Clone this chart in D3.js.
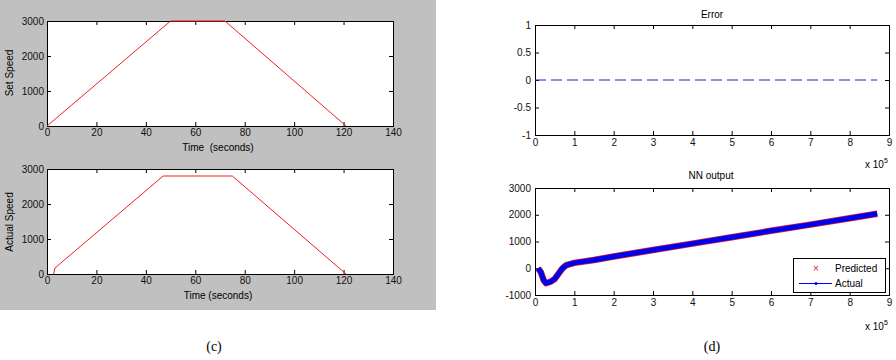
<!DOCTYPE html>
<html>
<head>
<meta charset="utf-8">
<script src="https://cdn.jsdelivr.net/npm/d3@7"></script>
<style>
  body { margin: 0; background: #fff; }
  text { font-family: "Liberation Sans", Arial, sans-serif; }
</style>
</head>
<body>
<svg id="fig"></svg>
<script>
// data
var setTime = [0, 50, 72, 121];
var setSpeed = [0, 3000, 3000, 0];
var actTime = [2.7, 3.2, 47, 75, 121];
var actSpeed = [0, 170, 2800, 2800, 0];
var speedXTicks = [0, 20, 40, 60, 80, 100, 120, 140];
var speedYTicks = [0, 1000, 2000, 3000];

var errX = [0, 8.7];
var errY = [0, 0];
var errXTicks = [0, 1, 2, 3, 4, 5, 6, 7, 8, 9];
var errYTicks = [-1, -0.5, 0, 0.5, 1];

var nnX = [0.08, 0.15, 0.22, 0.28, 0.4, 0.5, 0.6, 0.7, 0.8, 1.0, 1.5, 2, 3, 4, 5, 6, 7, 8, 8.7];
var nnY = [0, -150, -450, -560, -500, -400, -200, 0, 120, 200, 310, 440, 680, 920, 1160, 1400, 1630, 1870, 2040];
var nnYTicks = [-1000, 0, 1000, 2000, 3000];

var svg = d3.select("#fig").attr("width", 896).attr("height", 360);

svg.append("rect").attr("width", 896).attr("height", 360).attr("fill", "#fff");
// gray figure background of panel (c)
svg.append("rect").attr("width", 436).attr("height", 310).attr("fill", "#c0c0c0");

// MATLAB style axes: box with inward ticks on all four sides
function makeAxes(box, xDom, yDom, xTicks, yTicks, pad) {
  var g = svg.append("g").attr("transform", `translate(${box.x},${box.y})`);
  var x = d3.scaleLinear().domain(xDom).range([0, box.w]);
  var y = d3.scaleLinear().domain(yDom).range([box.h, 0]);
  var fmt = d => String(d);

  g.append("rect").attr("width", box.w).attr("height", box.h).attr("fill", "#fff");

  g.append("g").attr("transform", `translate(0,${box.h})`)
    .call(d3.axisBottom(x).tickValues(xTicks).tickSize(-4).tickPadding(pad).tickFormat(fmt));
  g.append("g")
    .call(d3.axisTop(x).tickValues(xTicks).tickSize(-4).tickFormat(""));
  g.append("g")
    .call(d3.axisLeft(y).tickValues(yTicks).tickSize(-4).tickPadding(pad).tickFormat(fmt));
  g.append("g").attr("transform", `translate(${box.w},0)`)
    .call(d3.axisRight(y).tickValues(yTicks).tickSize(-4).tickFormat(""));

  g.selectAll(".domain").remove();
  g.selectAll(".tick line").attr("stroke", "#000");
  g.selectAll(".tick text").attr("fill", "#111").style("font-size", "10px")
    .style("font-family", "'Liberation Sans', Arial, sans-serif");

  g.append("rect").attr("x", 0.5).attr("y", 0.5)
    .attr("width", box.w).attr("height", box.h)
    .attr("fill", "none").attr("stroke", "#000");

  return { g: g, x: x, y: y };
}

// (c) top: set speed
var a1 = makeAxes({ x: 47, y: 21, w: 346, h: 105 }, [0, 140], [0, 3000], speedXTicks, speedYTicks, 3);
a1.g.append("path")
  .datum(d3.zip(setTime, setSpeed))
  .attr("d", d3.line().x(d => a1.x(d[0])).y(d => a1.y(d[1])))
  .attr("fill", "none").attr("stroke", "#f02020").attr("stroke-width", 1);

svg.append("text").attr("x", 218).attr("y", 151).attr("text-anchor", "middle")
  .style("font-size", "10px").attr("xml:space", "preserve").text("Time  (seconds)");
svg.append("text").attr("transform", "translate(13,73) rotate(-90)").attr("text-anchor", "middle")
  .style("font-size", "10px").text("Set Speed");

// (c) bottom: actual speed
var a2 = makeAxes({ x: 47, y: 169, w: 346, h: 105 }, [0, 140], [0, 3000], speedXTicks, speedYTicks, 3);
a2.g.append("path")
  .datum(d3.zip(actTime, actSpeed))
  .attr("d", d3.line().x(d => a2.x(d[0])).y(d => a2.y(d[1])))
  .attr("fill", "none").attr("stroke", "#f02020").attr("stroke-width", 1);

svg.append("text").attr("x", 218).attr("y", 299).attr("text-anchor", "middle")
  .style("font-size", "10px").text("Time (seconds)");
svg.append("text").attr("transform", "translate(13,222) rotate(-90)").attr("text-anchor", "middle")
  .style("font-size", "10px").text("Actual Speed");

// (d) top: error
var b1 = makeAxes({ x: 535, y: 25, w: 354, h: 110 }, [0, 9], [-1, 1], errXTicks, errYTicks, 4);
b1.g.append("path")
  .datum(d3.zip(errX, errY))
  .attr("d", d3.line().x(d => b1.x(d[0])).y(d => b1.y(d[1])))
  .attr("fill", "none").attr("stroke", "#2020c8").attr("stroke-width", 1)
  .attr("stroke-dasharray", "11,5");

svg.append("text").attr("x", 712).attr("y", 18).attr("text-anchor", "middle")
  .style("font-size", "10px").text("Error");

function xExp(px, py) {
  var t = svg.append("text").attr("x", px).attr("y", py).style("font-size", "10px");
  t.append("tspan").text("x 10");
  t.append("tspan").attr("dy", -5).style("font-size", "7px").text("5");
}
xExp(865, 168);

// (d) bottom: NN output
var b2 = makeAxes({ x: 535, y: 188, w: 354, h: 107 }, [0, 9], [-1000, 3000], errXTicks, nnYTicks, 4);
var nnLine = d3.line().x(d => b2.x(d[0])).y(d => b2.y(d[1]));
b2.g.append("path").datum(d3.zip(nnX, nnY)).attr("d", nnLine)
  .attr("fill", "none").attr("stroke", "#e02020").attr("stroke-width", 6.5)
  .attr("stroke-linejoin", "round");
b2.g.append("path").datum(d3.zip(nnX, nnY)).attr("d", nnLine)
  .attr("fill", "none").attr("stroke", "#0000f0").attr("stroke-width", 5)
  .attr("stroke-linejoin", "round");

svg.append("text").attr("x", 711).attr("y", 179).attr("text-anchor", "middle")
  .style("font-size", "10px").text("NN output");
xExp(865, 330);

// legend
var leg = svg.append("g").attr("transform", "translate(793,258)");
leg.append("rect").attr("x", 0.5).attr("y", 0.5).attr("width", 92).attr("height", 34)
  .attr("fill", "#fff").attr("stroke", "#000");
leg.append("text").attr("x", 23).attr("y", 14).attr("text-anchor", "middle")
  .attr("fill", "#e02020").style("font-size", "10px").text("×");
leg.append("text").attr("x", 42).attr("y", 14).style("font-size", "10px").text("Predicted");
leg.append("line").attr("x1", 6).attr("x2", 39).attr("y1", 25.5).attr("y2", 25.5)
  .attr("stroke", "#0000f0").attr("stroke-width", 1);
leg.append("circle").attr("cx", 23).attr("cy", 25.5).attr("r", 1.5).attr("fill", "#0000f0");
leg.append("text").attr("x", 42).attr("y", 29).style("font-size", "10px").text("Actual");

// captions
svg.append("text").attr("x", 214).attr("y", 351).attr("text-anchor", "middle")
  .style("font-family", "'Liberation Serif', 'DejaVu Serif', serif").style("font-size", "14px").text("(c)");
svg.append("text").attr("x", 712).attr("y", 351).attr("text-anchor", "middle")
  .style("font-family", "'Liberation Serif', 'DejaVu Serif', serif").style("font-size", "14px").text("(d)");
</script>
</body>
</html>
